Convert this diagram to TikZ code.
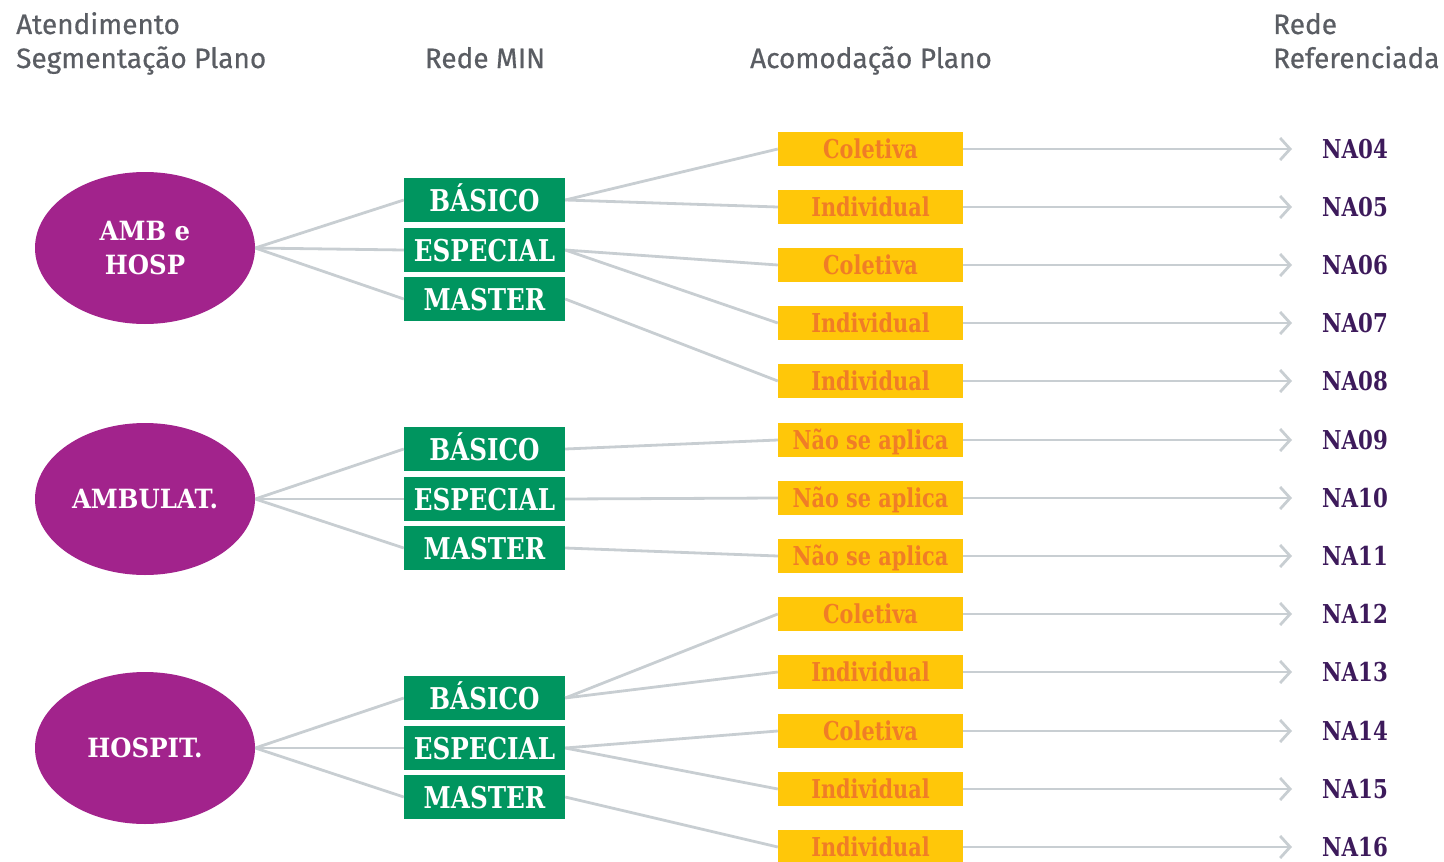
\documentclass[tikz,border=0pt]{standalone}
\usepackage{fontspec}
\setmainfont{Fira Sans}
\newfontfamily\headfont[FakeBold=0.5]{Fira Sans}
\newfontfamily\slab[FakeStretch=0.82]{DejaVu Serif}
\newfontfamily\slabacom[FakeStretch=0.8]{DejaVu Serif}
\newfontfamily\slabwide[FakeStretch=0.92]{DejaVu Serif}
\usetikzlibrary{arrows.meta,shapes.geometric}
\usepackage{xcolor}
\definecolor{headgray}{HTML}{5A5D63}
\definecolor{segpurple}{HTML}{A2238C}
\definecolor{redegreen}{HTML}{00955F}
\definecolor{acomyellow}{HTML}{FFC709}
\definecolor{acomorange}{HTML}{F07D26}
\definecolor{naink}{HTML}{3D1A5B}
\definecolor{linegray}{HTML}{C8CED2}
\tikzset{
  >={Straight Barb[length=10pt,width=22pt]},
  head/.style={font=\headfont\fontsize{28}{34}\selectfont,text=headgray,inner sep=0pt,text height=20pt,text depth=0pt},
  seg/.style={ellipse,fill=segpurple,minimum width=220pt,minimum height=152pt,inner sep=0pt,align=center,text=white,font=\slabwide\bfseries\fontsize{26.5}{34}\selectfont},
  rede/.style={fill=redegreen,minimum width=161pt,minimum height=44pt,inner sep=0pt,text=white,text height=22pt,text depth=0pt,font=\slab\bfseries\fontsize{30}{30}\selectfont},
  acom/.style={fill=acomyellow,minimum width=185pt,minimum height=34pt,inner sep=0pt,text=acomorange,text height=19pt,text depth=0pt,font=\slabacom\bfseries\fontsize{26}{26}\selectfont},
  na/.style={anchor=west,inner sep=0pt,text=naink,text height=18pt,text depth=0pt,font=\slab\bfseries\fontsize{26}{26}\selectfont},
  link/.style={draw=linegray,line width=2.8pt},
  arrow/.style={link,->,shorten >=30pt},
}

\begin{document}
\begin{tikzpicture}[x=1pt,y=-1pt]
  \useasboundingbox (0,0) rectangle (1444,862);

  % Headers
  \node[head,anchor=west] (h1a) at (16,24) {Atendimento};
  \node[head,anchor=west] (h1b) at (16,58) {Segmentação Plano};
  \node[head] (h2) at (485,58) {Rede MIN};
  \node[head] (h3) at (871,58) {Acomodação Plano};
  \node[head,anchor=west] (h4a) at (1273,24) {Rede};
  \node[head,anchor=west] (h4b) at (1273,58) {Referenciada};

  % Segmentacao
  \node[seg] (seg1) at (145,248) {AMB e\\HOSP};
  \node[seg] (seg2) at (145,499) {AMBULAT.};
  \node[seg] (seg3) at (145,748) {HOSPIT.};

  % Rede MIN
  \node[rede] (r11) at (484.5,200) {BÁSICO};
  \node[rede] (r12) at (484.5,250) {ESPECIAL};
  \node[rede] (r13) at (484.5,299) {MASTER};
  \node[rede] (r21) at (484.5,449) {BÁSICO};
  \node[rede] (r22) at (484.5,499) {ESPECIAL};
  \node[rede] (r23) at (484.5,548) {MASTER};
  \node[rede] (r31) at (484.5,698) {BÁSICO};
  \node[rede] (r32) at (484.5,748) {ESPECIAL};
  \node[rede] (r33) at (484.5,797) {MASTER};

  % Acomodacao
  \node[acom] (a1) at (870.5,149) {Coletiva};
  \node[acom] (a2) at (870.5,207) {Individual};
  \node[acom] (a3) at (870.5,265) {Coletiva};
  \node[acom] (a4) at (870.5,323) {Individual};
  \node[acom] (a5) at (870.5,381) {Individual};
  \node[acom] (a6) at (870.5,440) {Não se aplica};
  \node[acom] (a7) at (870.5,498) {Não se aplica};
  \node[acom] (a8) at (870.5,556) {Não se aplica};
  \node[acom] (a9) at (870.5,614) {Coletiva};
  \node[acom] (a10) at (870.5,672) {Individual};
  \node[acom] (a11) at (870.5,731) {Coletiva};
  \node[acom] (a12) at (870.5,789) {Individual};
  \node[acom] (a13) at (870.5,847) {Individual};

  % Rede referenciada
  \node[na] (n1) at (1322,149) {NA04};
  \node[na] (n2) at (1322,207) {NA05};
  \node[na] (n3) at (1322,265) {NA06};
  \node[na] (n4) at (1322,323) {NA07};
  \node[na] (n5) at (1322,381) {NA08};
  \node[na] (n6) at (1322,440) {NA09};
  \node[na] (n7) at (1322,498) {NA10};
  \node[na] (n8) at (1322,556) {NA11};
  \node[na] (n9) at (1322,614) {NA12};
  \node[na] (n10) at (1322,672) {NA13};
  \node[na] (n11) at (1322,731) {NA14};
  \node[na] (n12) at (1322,789) {NA15};
  \node[na] (n13) at (1322,847) {NA16};

  % Ligacoes
  \draw[link] (seg1.east) -- (r11.west);
  \draw[link] (seg1.east) -- (r12.west);
  \draw[link] (seg1.east) -- (r13.west);
  \draw[link] (seg2.east) -- (r21.west);
  \draw[link] (seg2.east) -- (r22.west);
  \draw[link] (seg2.east) -- (r23.west);
  \draw[link] (seg3.east) -- (r31.west);
  \draw[link] (seg3.east) -- (r32.west);
  \draw[link] (seg3.east) -- (r33.west);

  \draw[link] (r11.east) -- (a1.west);
  \draw[link] (r11.east) -- (a2.west);
  \draw[link] (r12.east) -- (a3.west);
  \draw[link] (r12.east) -- (a4.west);
  \draw[link] (r13.east) -- (a5.west);
  \draw[link] (r21.east) -- (a6.west);
  \draw[link] (r22.east) -- (a7.west);
  \draw[link] (r23.east) -- (a8.west);
  \draw[link] (r31.east) -- (a9.west);
  \draw[link] (r31.east) -- (a10.west);
  \draw[link] (r32.east) -- (a11.west);
  \draw[link] (r32.east) -- (a12.west);
  \draw[link] (r33.east) -- (a13.west);

  \draw[arrow] (a1) -- (n1);
  \draw[arrow] (a2) -- (n2);
  \draw[arrow] (a3) -- (n3);
  \draw[arrow] (a4) -- (n4);
  \draw[arrow] (a5) -- (n5);
  \draw[arrow] (a6) -- (n6);
  \draw[arrow] (a7) -- (n7);
  \draw[arrow] (a8) -- (n8);
  \draw[arrow] (a9) -- (n9);
  \draw[arrow] (a10) -- (n10);
  \draw[arrow] (a11) -- (n11);
  \draw[arrow] (a12) -- (n12);
  \draw[arrow] (a13) -- (n13);
\end{tikzpicture}
\end{document}
